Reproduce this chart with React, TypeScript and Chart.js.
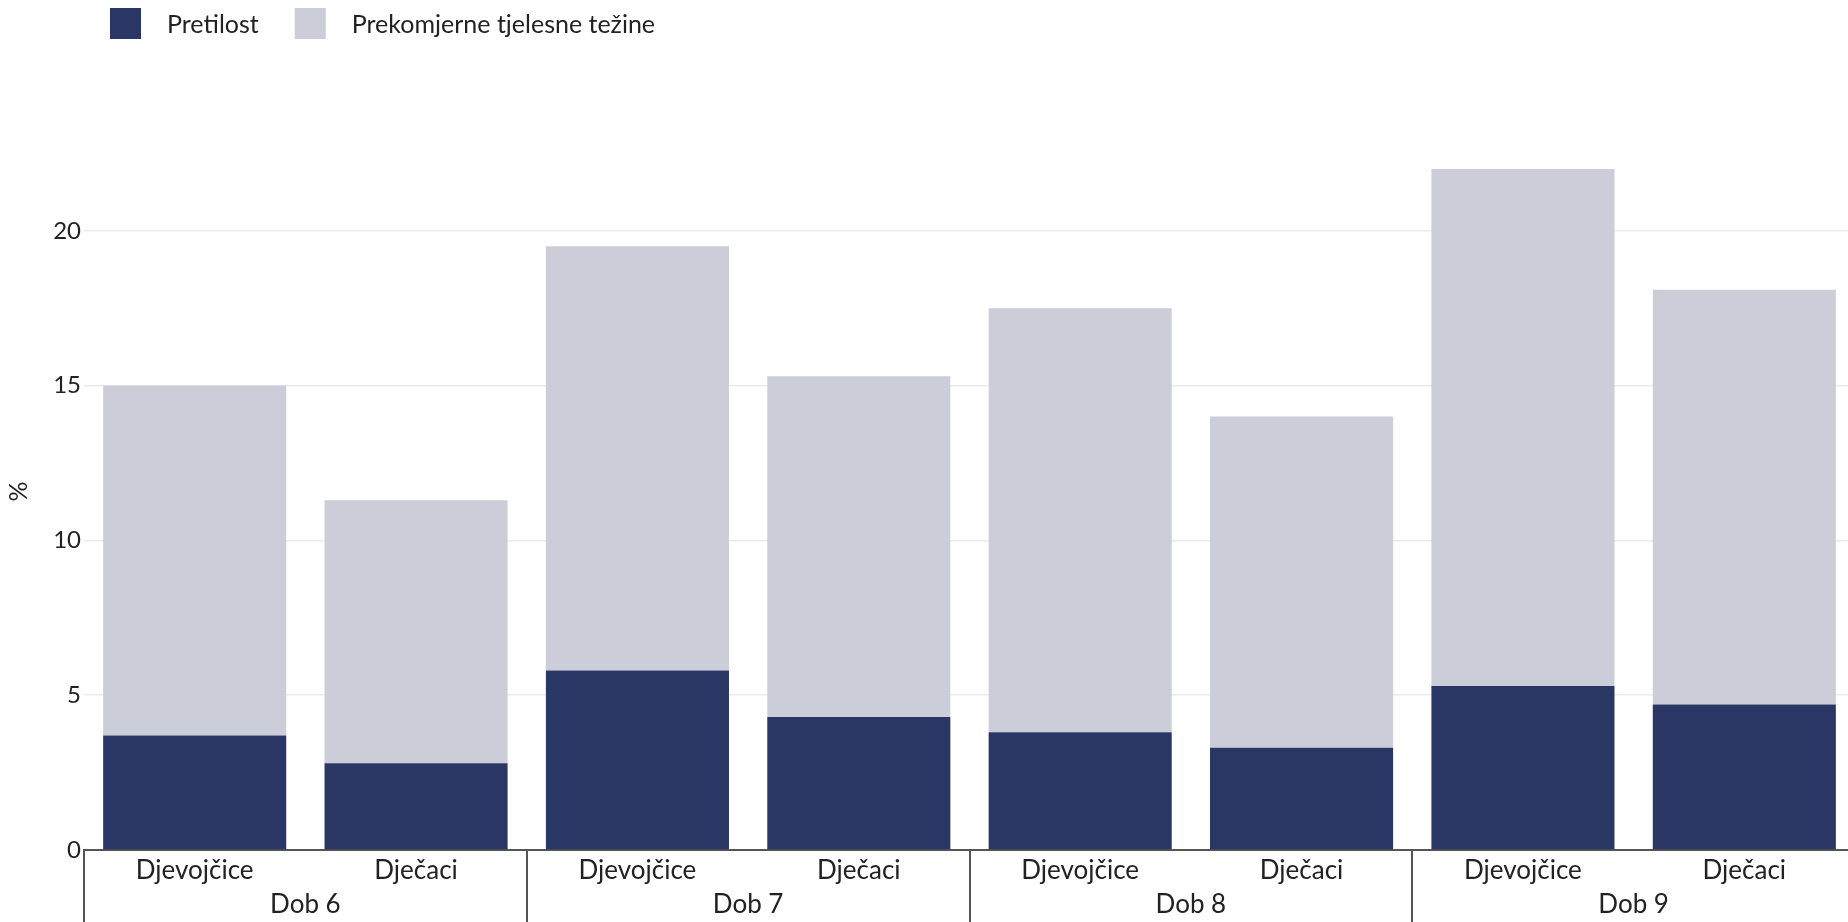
import React, { useEffect, useRef } from 'react';
import { Chart, registerables } from 'chart.js';

Chart.register(...registerables);

// ---- data ----
const categories = ['Djevojčice', 'Dječaci', 'Djevojčice', 'Dječaci', 'Djevojčice', 'Dječaci', 'Djevojčice', 'Dječaci'];
const ageGroups = ['Dob 6', 'Dob 7', 'Dob 8', 'Dob 9'];
const seriesNames = ['Pretilost', 'Prekomjerne tjelesne težine'];
const pretilost = [3.7, 2.8, 5.8, 4.3, 3.8, 3.3, 5.3, 4.7];
const prekomjerna = [11.3, 8.5, 13.7, 11.0, 13.7, 10.7, 16.7, 13.4];
const yTickValues = [0, 5, 10, 15, 20];
const yMax = 23.16;
const yTitle = '%';

const FONT = 'Lato, "Noto Sans", sans-serif';
const TEXT = '#222222';
const DARK = '#2a3764';
const LIGHT = '#cbcdd9';

const topLegend = {
  id: 'topLegend',
  afterDraw(chart: any) {
    const ctx = chart.ctx;
    ctx.save();
    ctx.font = `25px ${FONT}`;
    ctx.textBaseline = 'middle';
    ctx.textAlign = 'left';
    const box = 31;
    const top = 8;
    let x = 110;
    chart.data.datasets.forEach((ds: any) => {
      ctx.fillStyle = ds.backgroundColor;
      ctx.fillRect(x, top, box, box);
      const tx = x + box + 26;
      ctx.fillStyle = TEXT;
      ctx.fillText(ds.label, tx, top + box / 2 + 1);
      x = tx + ctx.measureText(ds.label).width + 36;
    });
    ctx.restore();
  },
};

const groupSeparators = {
  id: 'groupSeparators',
  afterDraw(chart: any) {
    const xs = chart.scales.x;
    const per = categories.length / ageGroups.length;
    const ctx = chart.ctx;
    ctx.save();
    ctx.strokeStyle = '#555555';
    ctx.lineWidth = 2;
    for (let g = 0; g <= ageGroups.length; g++) {
      const px = Math.round(xs.getPixelForValue(g * per - 0.5));
      ctx.beginPath();
      ctx.moveTo(px, chart.chartArea.bottom);
      ctx.lineTo(px, chart.height);
      ctx.stroke();
    }
    ctx.restore();
  },
};

export default function App() {
  const ref = useRef<HTMLCanvasElement | null>(null);

  useEffect(() => {
    if (!ref.current) return;
    const chart = new Chart(ref.current, {
      type: 'bar',
      data: {
        labels: categories,
        datasets: [
          {
            label: seriesNames[0],
            data: pretilost,
            backgroundColor: DARK,
            borderWidth: 0,
            barPercentage: 0.827,
            categoryPercentage: 1,
          },
          {
            label: seriesNames[1],
            data: prekomjerna,
            backgroundColor: LIGHT,
            borderWidth: 0,
            barPercentage: 0.827,
            categoryPercentage: 1,
          },
        ],
      },
      options: {
        animation: false,
        responsive: true,
        maintainAspectRatio: false,
        layout: { padding: { top: 133, left: 0, right: 0, bottom: 0 } },
        plugins: {
          legend: { display: false },
          tooltip: { enabled: false },
        },
        scales: {
          x: {
            stacked: true,
            offset: true,
            weight: 0,
            afterFit: (s: any) => { s.height = 36; },
            grid: { display: false, drawTicks: false },
            border: { display: true, color: '#555555', width: 2 },
            ticks: {
              padding: 5,
              autoSkip: false,
              maxRotation: 0,
              color: TEXT,
              font: { family: FONT, size: 26 },
            },
          },
          x2: {
            type: 'category',
            axis: 'x',
            position: 'bottom',
            labels: ageGroups,
            offset: true,
            weight: 1,
            afterFit: (s: any) => { s.height = 36; },
            grid: { display: false, drawTicks: false },
            border: { display: false },
            ticks: {
              padding: 3,
              autoSkip: false,
              maxRotation: 0,
              color: TEXT,
              font: { family: FONT, size: 26 },
            },
          },
          y: {
            stacked: true,
            min: 0,
            max: yMax,
            afterBuildTicks: (s: any) => { s.ticks = yTickValues.map((v) => ({ value: v })); },
            afterFit: (s: any) => { s.width = 84; },
            grid: { color: '#ebebeb', lineWidth: 1.5, drawTicks: false },
            border: { display: false },
            ticks: {
              padding: 3,
              color: TEXT,
              font: { family: FONT, size: 24 },
            },
            title: {
              display: true,
              text: yTitle,
              color: TEXT,
              font: { family: FONT, size: 25 },
              padding: { top: 4, bottom: 0 },
            },
          },
        },
      } as any,
      plugins: [topLegend, groupSeparators],
    });
    if ((document as any).fonts && (document as any).fonts.ready) {
      (document as any).fonts.ready.then(() => chart.update());
    }
    return () => chart.destroy();
  }, []);

  return (
    <div style={{ position: 'fixed', left: 0, top: 0, width: 1855, height: 922, background: '#ffffff' }}>
      <canvas ref={ref} />
    </div>
  );
}
